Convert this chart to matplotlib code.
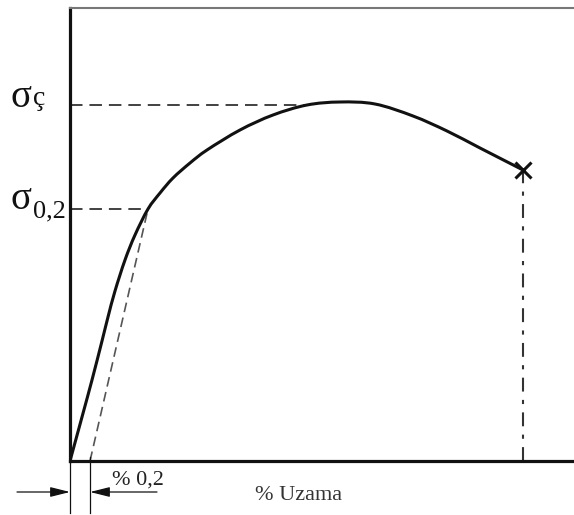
import matplotlib
matplotlib.use("Agg")
import matplotlib.pyplot as plt
from matplotlib.path import Path
from matplotlib.patches import PathPatch

plt.rcParams['lines.scale_dashes'] = False

# ---- data (strain in %, stress in arbitrary units) ----
strain = [0.0, 0.12, 0.22, 0.32, 0.38, 0.45, 0.55, 0.65, 0.78, 0.90, 1.03, 1.20,
          1.37, 1.70, 2.03, 2.37, 2.70, 3.05, 3.43, 3.77, 4.10, 4.53]
stress = [0, 44, 81, 120, 144, 170, 201, 226, 252, 268, 283, 298,
          311, 331, 346, 356, 359, 357, 345, 330, 313, 291]
offset_strain = 0.2
sigma_02 = 252
sigma_02_strain = 0.78
sigma_u = 356
sigma_u_strain = 2.37
fracture_strain = 4.53
fracture_stress = 291
x_label = "% Uzama"
offset_label = "% 0,2"

W, H = 574, 515
fig = plt.figure(figsize=(W / 100, H / 100), dpi=100)
ax = fig.add_axes([70 / W, 54 / H, 504 / W, 453 / H])
ax.set_xlim(0, 5.04)
ax.set_ylim(0, 453)
ax.set_xticks([])
ax.set_yticks([])
ax.spines['right'].set_visible(False)
ax.spines['left'].set_linewidth(2.3)
ax.spines['bottom'].set_linewidth(2.3)
ax.spines['top'].set_linewidth(1.5)
ax.spines['top'].set_color('#777777')
ax.spines['left'].set_color('#111111')
ax.spines['bottom'].set_color('#111111')

# main curve: smooth path through the read points (Catmull-Rom as cubic Beziers)
pts = list(zip(strain, stress))
verts = [pts[0]]
codes = [Path.MOVETO]
n = len(pts)
for i in range(n - 1):
    p0 = pts[i - 1] if i > 0 else pts[i]
    p1 = pts[i]
    p2 = pts[i + 1]
    p3 = pts[i + 2] if i + 2 < n else pts[i + 1]
    c1 = (p1[0] + (p2[0] - p0[0]) / 6, p1[1] + (p2[1] - p0[1]) / 6)
    c2 = (p2[0] - (p3[0] - p1[0]) / 6, p2[1] - (p3[1] - p1[1]) / 6)
    verts += [c1, c2, p2]
    codes += [Path.CURVE4] * 3
ax.add_patch(PathPatch(Path(verts, codes), facecolor='none', edgecolor='#111111',
                       lw=2.2, capstyle='round', zorder=3))

# offset line (0.2 %)
ax.plot([offset_strain, sigma_02_strain], [0, sigma_02], color='#555555', lw=1.2,
        dashes=(7, 4), zorder=2)

# horizontal dashed lines
ax.plot([0, sigma_02_strain], [sigma_02, sigma_02], color='#333333', lw=1.3,
        dashes=(9, 5), zorder=2)
ax.plot([0, sigma_u_strain], [sigma_u, sigma_u], color='#333333', lw=1.3,
        dashes=(9, 5), zorder=2)

# fracture marker and vertical dash-dot line
ax.plot([fracture_strain, fracture_strain], [0, fracture_stress], color='#333333',
        lw=1.5, dashes=(10, 6, 3, 6), zorder=2)
ax.plot([fracture_strain], [fracture_stress], marker='x', ms=11, mew=2.2,
        color='#111111', zorder=4)

# dimension lines for 0.2 %
ax.plot([0, 0], [0, -52], color='#111111', lw=0.9, clip_on=False)
ax.plot([offset_strain, offset_strain], [4, -52], color='#111111', lw=0.9, clip_on=False)
ax.annotate('', xy=(0, -31), xytext=(-0.53, -31),
            arrowprops=dict(arrowstyle='-|>,head_length=1.2,head_width=0.3',
                            color='#111111', lw=0.9, shrinkA=0, shrinkB=0),
            annotation_clip=False)
ax.annotate('', xy=(offset_strain, -31), xytext=(0.87, -31),
            arrowprops=dict(arrowstyle='-|>,head_length=1.2,head_width=0.3',
                            color='#111111', lw=0.9, shrinkA=0, shrinkB=0),
            annotation_clip=False)

serif = ['Liberation Serif', 'DejaVu Serif']
ax.text(0.42, -24, offset_label, family=serif, fontsize=16, color='#222222',
        ha='left', va='baseline', clip_on=False)
ax.text(1.85, -39, x_label, family=serif, fontsize=16, color='#333333',
        ha='left', va='baseline', clip_on=False)

# y labels
def fy(py):
    return (H - py) / H

fig.text(10 / W, fy(107), 'σ', family=serif, fontsize=28, color='#111111',
         ha='left', va='baseline')
fig.text(33 / W, fy(105), 'ç', family=serif, fontsize=20, color='#111111',
         ha='left', va='baseline')
fig.text(10 / W, fy(209), 'σ', family=serif, fontsize=28, color='#111111',
         ha='left', va='baseline')
fig.text(33 / W, fy(217), '0,2', family=serif, fontsize=19, color='#111111',
         ha='left', va='baseline')

fig.savefig('out.png', dpi=100, facecolor='white')
